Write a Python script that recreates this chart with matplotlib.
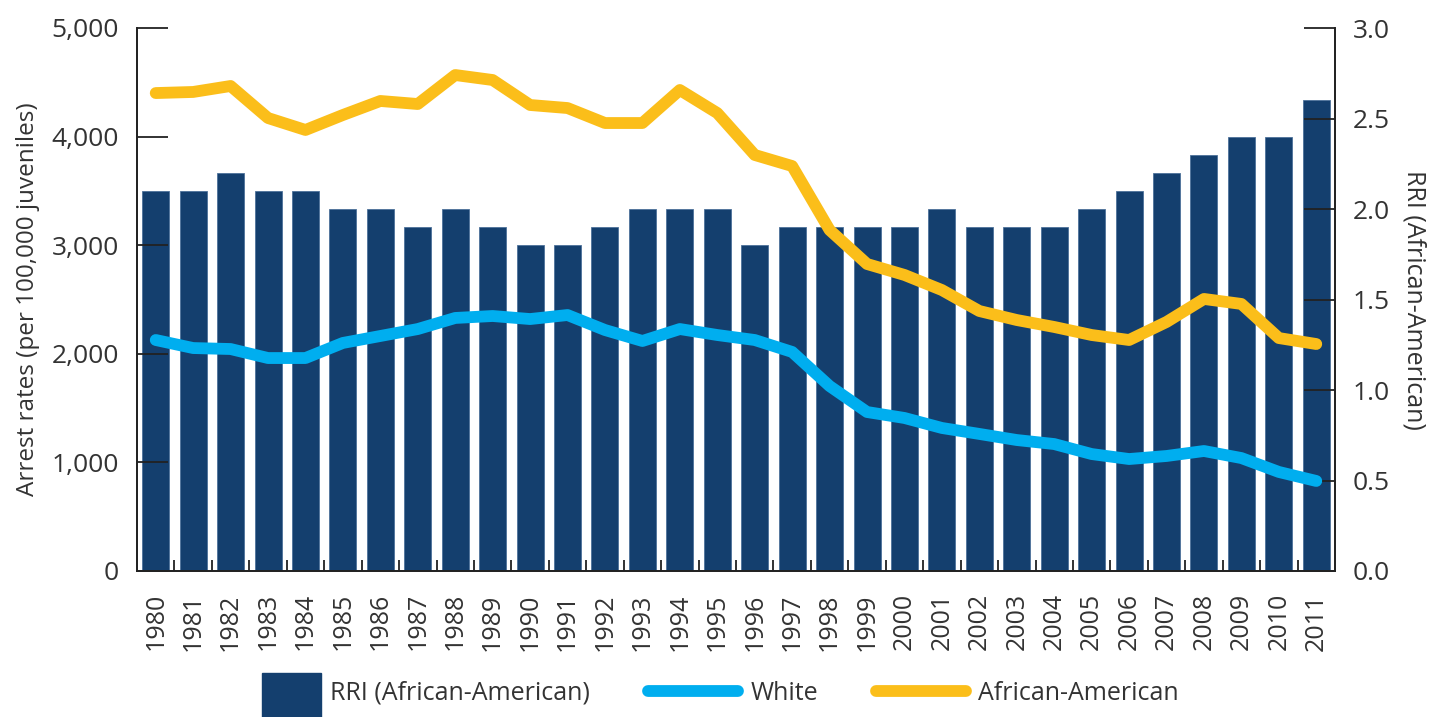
import numpy as np
import matplotlib
matplotlib.use("Agg")
from matplotlib import pyplot as plt
import matplotlib.patches as mpatches
from matplotlib.lines import Line2D
from matplotlib.legend_handler import HandlerPatch

plt.rcParams['font.family'] = ['Open Sans', 'DejaVu Sans']

# data
years = list(range(1980, 2012))
rri = [2.1, 2.1, 2.2, 2.1, 2.1, 2.0, 2.0, 1.9, 2.0, 1.9, 1.8, 1.8, 1.9, 2.0, 2.0, 2.0,
       1.8, 1.9, 1.9, 1.9, 1.9, 2.0, 1.9, 1.9, 1.9, 2.0, 2.1, 2.2, 2.3, 2.4, 2.4, 2.6]
white = [2127, 2053, 2044, 1961, 1961, 2100, 2164, 2228, 2330, 2348, 2320, 2357, 2219, 2118,
         2228, 2173, 2127, 2017, 1703, 1464, 1409, 1317, 1262, 1206, 1169, 1077, 1031, 1059,
         1105, 1040, 912, 829]
african_american = [4401, 4411, 4466, 4171, 4061, 4199, 4328, 4300, 4567, 4521, 4291, 4263,
                    4125, 4125, 4429, 4217, 3831, 3729, 3140, 2827, 2726, 2587, 2394, 2311,
                    2247, 2173, 2127, 2293, 2505, 2459, 2145, 2090]
left_ticks = [0, 1000, 2000, 3000, 4000, 5000]
right_ticks = [0.0, 0.5, 1.0, 1.5, 2.0, 2.5, 3.0]

BAR = '#143f6e'
BLUE = '#00aeef'
GOLD = '#fbbe1a'
TXT = '#333333'

fig = plt.figure(figsize=(14.51, 7.17), dpi=100)
ax = fig.add_axes([137 / 1451, 1 - 571 / 717, (1335 - 137) / 1451, (571 - 28) / 717])
ax2 = ax.twinx()
ax.set_zorder(ax2.get_zorder() + 1)
ax.patch.set_visible(False)

x = np.arange(len(years))
ax2.bar(x, rri, width=0.72, color=BAR, edgecolor='#4d719a', linewidth=0.6)
ax.plot(x, white, color=BLUE, lw=8.5, solid_capstyle='round', solid_joinstyle='round')
ax.plot(x, african_american, color=GOLD, lw=8.5, solid_capstyle='round', solid_joinstyle='round')

ax.set_xlim(-0.5, len(years) - 0.5)
ax.set_ylim(0, 5000)
ax2.set_ylim(0, 3.0)

for a in (ax, ax2):
    a.spines['top'].set_visible(False)
    for s in ('left', 'right', 'bottom'):
        a.spines[s].set_linewidth(1.3)
        a.spines[s].set_color('#222222')

ax.set_yticks(left_ticks)
ax.set_yticklabels([f'{v:,}' for v in left_ticks])
ax.tick_params(axis='y', direction='in', length=22, width=1.3, color='#222222',
               labelsize=19, labelcolor=TXT, pad=13)
ax2.set_yticks(right_ticks)
ax2.set_yticklabels([f'{v:.1f}' for v in right_ticks])
ax2.tick_params(axis='y', direction='in', length=22, width=1.3, color='#222222',
                labelsize=19, labelcolor=TXT, pad=13)

# year labels under bars, tick marks between bars
ax.set_xticks(x)
ax.set_xticklabels([str(y) for y in years], rotation=90, fontsize=18,
                   family=['Liberation Sans Narrow', 'Open Sans', 'DejaVu Sans'])
ax.tick_params(axis='x', which='major', length=0, pad=16, labelcolor=TXT)
ax.set_xticks(x[:-1] + 0.5, minor=True)
ax.tick_params(axis='x', which='minor', direction='in', length=8, width=1.3, color='#222222')
ax2.tick_params(axis='x', which='both', length=0)

ax.set_ylabel('Arrest rates (per 100,000 juveniles)', fontsize=17.5, color=TXT, labelpad=8)
ax2.set_ylabel('RRI (African-American)', fontsize=18, color=TXT, rotation=-90,
               labelpad=26)


def make_rect(legend, orig_handle, xdescent, ydescent, width, height, fontsize):
    # square-ish block sitting at the right end of the handle box
    return mpatches.Rectangle((width - xdescent - 40, -ydescent - 15), 42, 34)


handles = [mpatches.Patch(color=BAR),
           Line2D([], [], color=BLUE, lw=8.5, solid_capstyle='round'),
           Line2D([], [], color=GOLD, lw=8.5, solid_capstyle='round')]
labels = ['RRI (African-American)', 'White', 'African-American']
fig.legend(handles, labels, loc='center left', bbox_to_anchor=(228 / 1451, 1 - 693 / 717),
           ncol=3, frameon=False, fontsize=18, handlelength=3.6, handletextpad=0.5,
           columnspacing=2.3, borderpad=0, borderaxespad=0, labelcolor=TXT,
           handler_map={mpatches.Patch: HandlerPatch(patch_func=make_rect)})

fig.savefig('out.png', dpi=100)
